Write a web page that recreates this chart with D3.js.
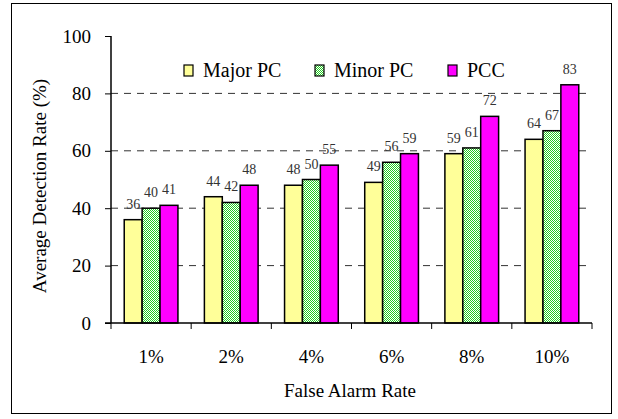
<!DOCTYPE html>
<html><head><meta charset="utf-8">
<script src="https://cdn.jsdelivr.net/npm/d3@7"></script>
<style>body{margin:0;background:#fff}svg{display:block}</style>
</head><body>
<svg id="c" width="618" height="419" font-family="Liberation Serif"></svg>
<script>
const categories = ["1%","2%","4%","6%","8%","10%"];
const seriesNames = ["Major PC","Minor PC","PCC"];
const majorPC = [36,44,48,49,59,64];
const minorPC = [40,42,50,56,61,67];
const pcc = [41,48,55,59,72,83];
const yTicks = [0,20,40,60,80,100];
const gridTicks = [20,40,60,80];
const FONT = "Liberation Serif";

const svg = d3.select("#c");
function label(parent, x, y, size, txt, anchor, rotate, fill){
  return parent.append("text")
    .attr("transform", `translate(${x},${y})` + (rotate?` rotate(${rotate})`:""))
    .attr("font-family",FONT).attr("font-size",size)
    .attr("text-anchor",anchor||"start").attr("fill",fill||"#000").text(txt);
}

const defs = svg.append("defs");
const pat = defs.append("pattern").attr("id","chk").attr("width",2).attr("height",2).attr("patternUnits","userSpaceOnUse");
pat.append("rect").attr("width",2).attr("height",2).attr("fill","#ffffff");
pat.append("rect").attr("width",1).attr("height",1).attr("fill","#22cc22");
pat.append("rect").attr("x",1).attr("y",1).attr("width",1).attr("height",1).attr("fill","#22cc22");

const fills = ["#ffff99","url(#chk)","#ff00ff"];
const data = [majorPC, minorPC, pcc];

svg.append("rect").attr("x",11.5).attr("y",3.5).attr("width",600).attr("height",410)
  .attr("fill","none").attr("stroke","#000").attr("stroke-width",1);

const L=111, R=592, T=36, B=323;
const x = d3.scaleBand().domain(categories).range([L,R]).paddingInner(0.33).paddingOuter(0.165);
const xs = d3.scaleBand().domain(seriesNames).range([0,x.bandwidth()]);
const y = d3.scaleLinear().domain([0,100]).range([B,T]);

svg.append("g").selectAll("line").data(gridTicks).join("line")
  .attr("x1",L).attr("x2",R).attr("y1",d=>y(d)).attr("y2",d=>y(d))
  .attr("stroke","#333").attr("stroke-width",1).attr("stroke-dasharray","7,6");

const g = svg.append("g");
data.forEach((vals,si)=>{
  g.selectAll(null).data(vals).join("rect")
    .attr("x",(d,i)=>x(categories[i])+xs(seriesNames[si]))
    .attr("y",d=>y(d))
    .attr("width",xs.bandwidth())
    .attr("height",d=>B-y(d))
    .attr("fill",fills[si])
    .attr("stroke","#000").attr("stroke-width",1.5);
  vals.forEach((d,i)=>{
    label(g, x(categories[i])+xs(seriesNames[si])+xs.bandwidth()/2, y(d)-11, 14, String(d), "middle", 0, "#333");
  });
});

const ya = d3.axisLeft(y).tickValues(yTicks).tickSize(6).tickFormat("");
const yg = svg.append("g").attr("transform",`translate(${L},0)`).call(ya);
yg.select(".domain").attr("d",`M0,${T}V${B}`).attr("stroke","#000").attr("stroke-width",1.5);
yg.selectAll(".tick line").attr("stroke","#000");
yTicks.forEach(t=>label(svg, L-20, y(t)+6.5, 19, String(t), "end"));

const xa = svg.append("g").attr("transform",`translate(0,${B})`);
xa.append("line").attr("x1",L-6).attr("x2",R).attr("stroke","#000").attr("stroke-width",1.5);
const bounds = categories.map(c=>x(c)-x.step()*x.paddingInner()/2).concat([R]);
xa.selectAll(".tk").data(bounds).join("line").attr("class","tk")
  .attr("x1",d=>d).attr("x2",d=>d).attr("y1",0).attr("y2",6).attr("stroke","#000");
categories.forEach(c=>label(svg, x(c)+x.bandwidth()/2, B+40, 19, c, "middle"));

label(svg, 350, 397, 19, "False Alarm Rate", "middle");
label(svg, 46, 186, 19, "Average Detection Rate (%)", "middle", -90);

const legX = [184,315,448];
const lg = svg.append("g");
seriesNames.forEach((n,i)=>{
  lg.append("rect").attr("x",legX[i]).attr("y",65).attr("width",9).attr("height",11)
    .attr("fill",fills[i]).attr("stroke","#000").attr("stroke-width",1.2);
  label(lg, legX[i]+19, 77, 20, n, "start");
});
</script>
</body></html>
